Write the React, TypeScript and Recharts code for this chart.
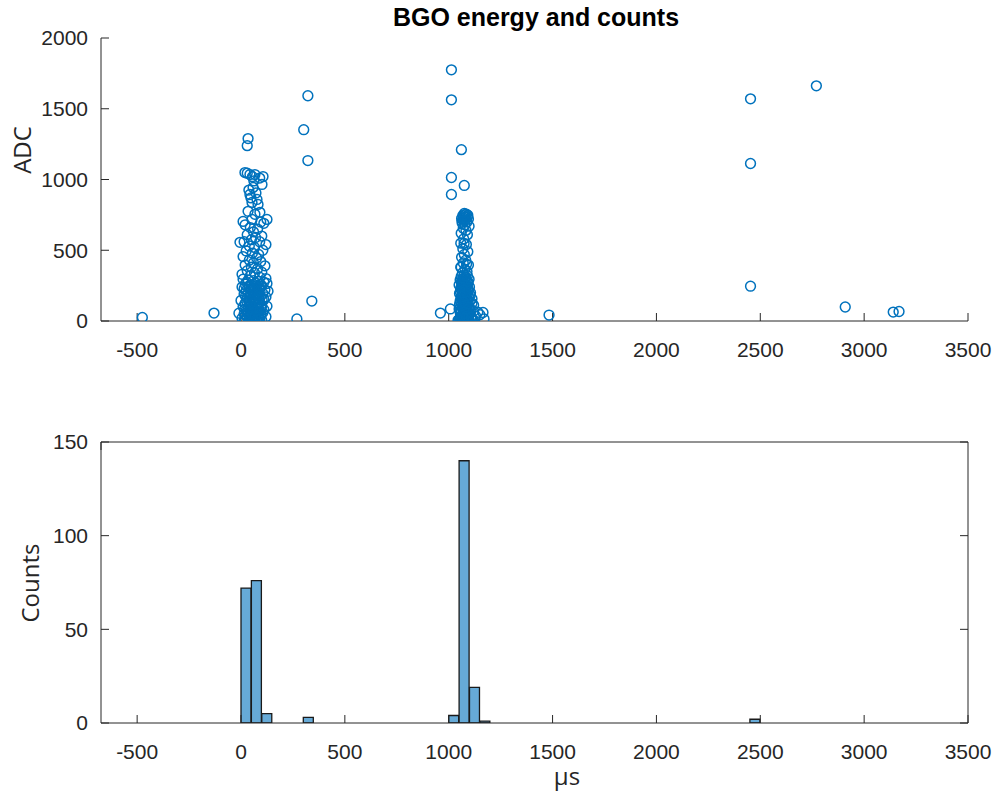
import React from 'react';
import { ScatterChart, Scatter, XAxis, YAxis, ComposedChart, Bar } from 'recharts';

// ---- Scatter data: [time (µs), ADC] ----
const isolatedHits: [number, number][] = [
  [-475, 25], [-130, 56], [34, 1289], [30, 1239], [269, 14], [302, 1352], [322, 1592],
  [322, 1134], [341, 141], [1013, 1775], [1013, 1563], [1061, 1211], [1013, 1014],
  [1013, 894], [1075, 958], [960, 56], [1008, 85], [1483, 42], [2453, 1570],
  [2453, 1113], [2453, 246], [2770, 1662], [2909, 99], [3140, 63], [3168, 67],
];

const earlyCluster: [number, number][] = [
  [19, 1049], [43, 1035], [67, 1035], [106, 1021], [101, 965], [58, 944], [43, 894], [77, 859],
  [53, 838], [82, 824], [34, 775], [67, 754], [91, 768], [53, 718], [125, 718], [10, 704],
  [30, 1045], [55, 1020], [90, 1010], [62, 990], [38, 925], [72, 905], [48, 870], [95, 700],
  [110, 690], [20, 680], [45, 660], [80, 650], [60, 630], [30, 610], [100, 600], [70, 590],
  [15, 560], [50, 575], [90, 560], [120, 540], [40, 530], [65, 520], [-5, 556], [105, 500],
  [25, 495], [55, 480], [85, 470], [10, 455], [75, 445], [40, 430], [95, 420], [60, 410],
  [20, 395], [115, 390], [50, 380], [80, 370], [30, 355], [100, 345], [65, 340], [5, 330],
  [45, 320], [90, 310], [120, 300], [10, 295], [35, 290], [60, 285], [85, 280], [110, 275],
  [125, 265], [20, 260], [50, 255], [75, 250], [100, 245], [5, 240], [40, 235], [65, 230],
  [90, 225], [115, 220], [130, 210], [25, 215], [55, 205], [80, 200], [105, 195], [15, 190],
  [45, 185], [70, 180], [95, 175], [120, 170], [30, 165], [60, 160], [85, 155], [110, 150],
  [0, 145], [40, 140], [65, 135], [90, 130], [20, 125], [50, 120], [75, 115], [100, 110],
  [125, 105], [10, 100], [35, 95], [60, 90], [85, 85], [110, 80], [25, 75], [55, 70],
  [80, 65], [105, 60], [-10, 55], [15, 50], [45, 45], [70, 40], [95, 35], [120, 30],
  [30, 28], [60, 25], [85, 22], [5, 20], [40, 18], [65, 15], [90, 12], [20, 10],
  [50, 8], [75, 6], [100, 5], [35, 4], [55, 3], [80, 2], [15, 1], [65, 0], [45, 0],
  [28, 272], [70, 268], [95, 258], [38, 248], [62, 242], [88, 236], [15, 228], [52, 222],
  [78, 212], [35, 200], [62, 192], [88, 186], [22, 176], [48, 170], [75, 158], [102, 148],
  [28, 136], [58, 128], [82, 122], [42, 108], [68, 100], [95, 92], [18, 84], [48, 78],
  [72, 72], [30, 60], [58, 52], [85, 46], [40, 36], [68, 30], [22, 40], [95, 50],
];

const lateCluster: [number, number][] = [
  [1075, 760], [1085, 755], [1068, 745], [1092, 748], [1080, 735], [1062, 725], [1095, 720],
  [1072, 710], [1088, 700], [1065, 690], [1078, 680], [1098, 670], [1070, 655], [1083, 640],
  [1060, 620], [1090, 610], [1072, 580], [1058, 550], [1085, 540], [1068, 510], [1092, 490],
  [1075, 470], [1062, 450], [1082, 430], [1070, 410], [1095, 395], [1058, 380], [1078, 365],
  [1088, 350], [1066, 340], [1075, 325], [1090, 320], [1060, 315], [1082, 310], [1068, 300],
  [1098, 295], [1055, 290], [1085, 285], [1072, 280], [1062, 272], [1093, 268], [1078, 260],
  [1050, 255], [1088, 250], [1066, 245], [1100, 240], [1074, 235], [1058, 228], [1084, 222],
  [1095, 215], [1064, 210], [1077, 205], [1105, 200], [1052, 195], [1090, 190], [1070, 185],
  [1082, 180], [1060, 172], [1096, 168], [1074, 162], [1112, 158], [1066, 152], [1086, 148],
  [1055, 142], [1078, 138], [1099, 132], [1063, 128], [1089, 122], [1072, 118], [1120, 112],
  [1058, 108], [1083, 102], [1095, 98], [1068, 92], [1080, 88], [1050, 84], [1104, 80],
  [1074, 75], [1062, 70], [1090, 66], [1140, 62], [1076, 58], [1056, 54], [1086, 50],
  [1068, 46], [1098, 42], [1080, 38], [1130, 34], [1062, 30], [1090, 27], [1072, 24],
  [1150, 45], [1055, 20], [1084, 18], [1110, 15], [1066, 12], [1095, 10], [1078, 8],
  [1045, 6], [1088, 5], [1070, 3], [1100, 2], [1060, 1], [1082, 0], [1170, 15], [1165, 60],
  [1080, 298], [1064, 286], [1092, 278], [1070, 262], [1084, 254], [1060, 240], [1092, 232],
  [1072, 218], [1056, 206], [1086, 198], [1066, 176], [1080, 170], [1104, 182], [1060, 158],
  [1090, 140], [1072, 134], [1112, 126], [1052, 118], [1080, 112], [1066, 104], [1100, 96],
  [1088, 78], [1058, 72], [1076, 64], [1120, 70], [1094, 56], [1064, 40], [1084, 32],
  [1108, 28], [1052, 14], [1074, 16], [1118, 8], [1060, 380], [1086, 402], [1074, 548],
  [1080, 712], [1070, 728], [1090, 738], [1078, 752], [1064, 705],
];

// ---- Histogram data (bins of 50 µs) ----
const binStarts = [0, 50, 100, 300, 1000, 1050, 1100, 1150, 2450];
const binCounts = [72, 76, 5, 3, 4, 140, 19, 1, 2];
const binWidth = 50;

// ---- Ticks ----
const timeTicks = [-500, 0, 500, 1000, 1500, 2000, 2500, 3000, 3500];
const adcTicks = [0, 500, 1000, 1500, 2000];
const countTicks = [0, 50, 100, 150];
const timeDomain: [number, number] = [-674, 3500];

const scatterData = [...isolatedHits, ...earlyCluster, ...lateCluster].map(([t, adc]) => ({ t, adc }));
const histData = binStarts.map((s, i) => ({ center: s + binWidth / 2, count: binCounts[i] }));

const AXIS = '#262626';
const tickFont = { fontFamily: 'Liberation Sans, Arial, sans-serif', fontSize: 21, fill: AXIS };
const labelFont = "'Open Sans', 'Noto Sans', sans-serif";

const Ring = (props: any) => {
  const { cx, cy } = props;
  if (cx == null || cy == null) return <g />;
  return <circle cx={cx} cy={cy} r={4.9} fill="none" stroke="#0072BD" strokeWidth={1.5} />;
};

const Empty = () => <g />;

export default function App() {
  return (
    <div style={{ position: 'absolute', left: 0, top: 0, width: 1003, height: 798, background: '#fff' }}>
      <div
        style={{
          position: 'absolute', left: 336, top: 5, width: 400, textAlign: 'center', lineHeight: 1,
          fontFamily: 'Liberation Sans, Arial, sans-serif', fontWeight: 'bold', fontSize: 25, color: '#000',
        }}
      >
        BGO energy and counts
      </div>
      <div
        style={{
          position: 'absolute', left: 22, top: 150, transform: 'translate(-50%, -50%) rotate(-90deg)',
          fontFamily: labelFont, fontSize: 24, lineHeight: 1, color: AXIS, whiteSpace: 'nowrap',
        }}
      >
        ADC
      </div>
      <div
        style={{
          position: 'absolute', left: 30, top: 583, transform: 'translate(-50%, -50%) rotate(-90deg)',
          fontFamily: labelFont, fontSize: 24, lineHeight: 1, color: AXIS, whiteSpace: 'nowrap',
        }}
      >
        Counts
      </div>
      <div
        style={{
          position: 'absolute', left: 567, top: 776, transform: 'translate(-50%, -50%)',
          fontFamily: labelFont, fontSize: 24, lineHeight: 1, color: AXIS, whiteSpace: 'nowrap',
        }}
      >
        µs
      </div>

      <div style={{ position: 'absolute', left: 0, top: 0 }}>
        <ScatterChart width={1003} height={380} margin={{ top: 38, right: 35, bottom: 19, left: 41 }}>
          <XAxis
            dataKey="t" type="number" domain={timeDomain} ticks={timeTicks} allowDataOverflow
            height={40} tickSize={-8} tickMargin={29} interval={0}
            stroke={AXIS} tick={tickFont} tickLine={{ stroke: AXIS }} axisLine={{ stroke: AXIS }}
          />
          <YAxis
            dataKey="adc" type="number" domain={[0, 2000]} ticks={adcTicks} allowDataOverflow
            width={60} tickSize={-8} tickMargin={21} interval={0}
            stroke={AXIS} tick={tickFont} tickLine={{ stroke: AXIS }} axisLine={{ stroke: AXIS }}
          />
          <Scatter data={scatterData} shape={Ring} isAnimationActive={false} />
        </ScatterChart>
      </div>

      <div style={{ position: 'absolute', left: 0, top: 380 }}>
        <ComposedChart
          width={1003} height={418} data={histData}
          margin={{ top: 61, right: 34, bottom: 35, left: 41 }}
          barCategoryGap={0} barGap={0}
        >
          <XAxis
            xAxisId="bottom" dataKey="center" type="number" domain={timeDomain} ticks={timeTicks} allowDataOverflow
            height={40} tickSize={-8} tickMargin={29} interval={0}
            stroke={AXIS} tick={tickFont} tickLine={{ stroke: AXIS }} axisLine={{ stroke: AXIS }}
          />
          <XAxis
            xAxisId="top" orientation="top" type="number" domain={timeDomain} ticks={timeTicks} allowDataOverflow
            height={1} tickSize={-8} interval={0}
            stroke={AXIS} tick={Empty} tickLine={{ stroke: AXIS }} axisLine={{ stroke: AXIS }}
          />
          <YAxis
            yAxisId="left" type="number" domain={[0, 150]} ticks={countTicks} allowDataOverflow
            width={60} tickSize={-8} tickMargin={21} interval={0}
            stroke={AXIS} tick={tickFont} tickLine={{ stroke: AXIS }} axisLine={{ stroke: AXIS }}
          />
          <YAxis
            yAxisId="right" orientation="right" type="number" domain={[0, 150]} ticks={countTicks} allowDataOverflow
            width={1} tickSize={-8} interval={0}
            stroke={AXIS} tick={Empty} tickLine={{ stroke: AXIS }} axisLine={{ stroke: AXIS }}
          />
          <Bar
            xAxisId="bottom" yAxisId="left" dataKey="count"
            fill="#66AAD7" stroke="#1a1a1a" strokeWidth={1.3} isAnimationActive={false}
          />
        </ComposedChart>
      </div>
    </div>
  );
}
